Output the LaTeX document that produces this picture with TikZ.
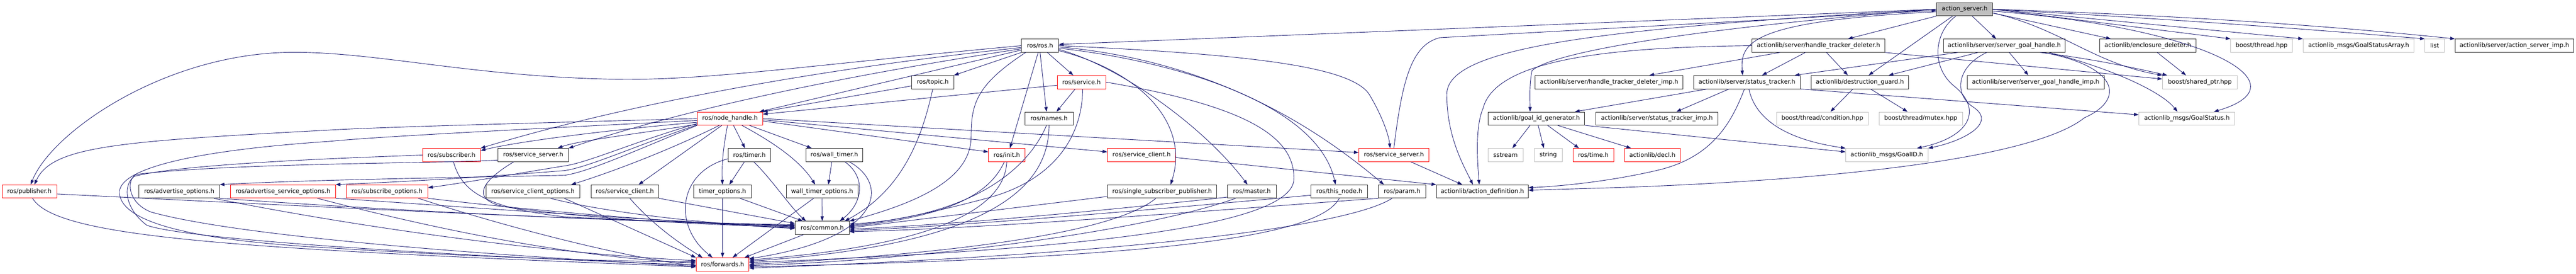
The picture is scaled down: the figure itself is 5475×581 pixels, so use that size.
\documentclass[tikz,border=0pt]{standalone}
\usepackage{fontspec}
\setmainfont{DejaVu Sans}
\usetikzlibrary{arrows.meta}

\definecolor{edgeblue}{HTML}{191970}
\definecolor{extgray}{HTML}{BFBFBF}

\begin{document}
\begin{tikzpicture}[x=0.75pt, y=-0.75pt,
    hdr/.style={draw=black!85, fill=white, line width=0.75pt, minimum height=21pt, inner sep=0pt, font=\fontsize{9.6}{11.5}\selectfont},
    trunc/.style={hdr, draw=red},
    extfile/.style={hdr, draw=extgray},
    rootfile/.style={hdr, fill=extgray},
    dep/.style={draw=edgeblue, line width=0.75pt, -{Triangle[length=7.5pt,width=5.25pt]}}]

    \useasboundingbox (0,0) rectangle (5475,581);

    % Draw the header files, row by row
    \node[rootfile, minimum width=89.25pt] (AS) at (4175.5,19.6) {action\_server.h};

    \node[hdr, minimum width=59.25pt] (RR) at (2210.5,96.9) {ros/ros.h};
    \node[hdr, minimum width=211.5pt] (HTD) at (3865,96.9) {actionlib/server/handle\_tracker\_deleter.h};
    \node[hdr, minimum width=193.7pt] (SGH) at (4259.85,96.9) {actionlib/server/server\_goal\_handle.h};
    \node[hdr, minimum width=153pt] (ED) at (4565,96.9) {actionlib/enclosure\_deleter.h};
    \node[extfile, minimum width=98.6pt] (BT) at (4806.75,96.9) {boost/thread.hpp};
    \node[extfile, minimum width=177pt] (GSA) at (5013,96.9) {actionlib\_msgs/GoalStatusArray.h};
    \node[extfile, minimum width=30.75pt] (LST) at (5174.5,96.9) {list};
    \node[hdr, minimum width=189pt] (ASI) at (5344,96.9) {actionlib/server/action\_server\_imp.h};

    \node[hdr, minimum width=66.75pt] (TOP) at (1982.5,174.3) {ros/topic.h};
    \node[trunc, minimum width=77.25pt] (SRV) at (2298.5,174.3) {ros/service.h};
    \node[hdr, minimum width=235.5pt] (HTDI) at (3420,174.3) {actionlib/server/handle\_tracker\_deleter\_imp.h};
    \node[hdr, minimum width=170.1pt] (ST) at (3713,174.3) {actionlib/server/status\_tracker.h};
    \node[hdr, minimum width=154.8pt] (DG) at (3952.8,174.3) {actionlib/destruction\_guard.h};
    \node[hdr, minimum width=218.25pt] (SGHI) at (4326.5,174.3) {actionlib/server/server\_goal\_handle\_imp.h};
    \node[extfile, minimum width=119.25pt] (SP) at (4675.5,174.3) {boost/shared\_ptr.hpp};

    \node[trunc, minimum width=104.25pt] (NH) at (1551.5,251.6) {ros/node\_handle.h};
    \node[hdr, minimum width=77.25pt] (NAM) at (2229.5,251.6) {ros/names.h};
    \node[hdr, minimum width=154.1pt] (GIG) at (3265.25,251.6) {actionlib/goal\_id\_generator.h};
    \node[hdr, minimum width=194.25pt] (STI) at (3521.5,251.6) {actionlib/server/status\_tracker\_imp.h};
    \node[extfile, minimum width=146.25pt] (CND) at (3873.2,251.6) {boost/thread/condition.hpp};
    \node[extfile, minimum width=133pt] (MTX) at (4082.3,251.6) {boost/thread/mutex.hpp};
    \node[extfile, minimum width=153pt] (GS) at (4648,251.6) {actionlib\_msgs/GoalStatus.h};

    \node[trunc, minimum width=91.9pt] (SUB) at (959.75,329) {ros/subscriber.h};
    \node[hdr, minimum width=112.1pt] (SSB) at (1133.25,329) {ros/service\_server.h};
    \node[hdr, minimum width=67.9pt] (TIM) at (1592.75,329) {ros/timer.h};
    \node[hdr, minimum width=91.1pt] (WT) at (1773.25,329) {ros/wall\_timer.h};
    \node[trunc, minimum width=58.2pt] (INI) at (2139.8,329) {ros/init.h};
    \node[trunc, minimum width=108.45pt] (SCR) at (2426.3,329) {ros/service\_client.h};
    \node[trunc, minimum width=111.75pt] (SSR) at (2962.5,329) {ros/service\_server.h};
    \node[extfile, minimum width=55.9pt] (SST) at (3199.75,329) {sstream};
    \node[extfile, minimum width=44.25pt] (STR) at (3290.5,329) {string};
    \node[trunc, minimum width=65.25pt] (TIME) at (3386.5,329) {ros/time.h};
    \node[trunc, minimum width=88.5pt] (DECL) at (3512,329) {actionlib/decl.h};
    \node[extfile, minimum width=130.9pt] (GID) at (4010.25,329) {actionlib\_msgs/GoalID.h};

    \node[trunc, minimum width=87pt] (PUB) at (62.5,406.3) {ros/publisher.h};
    \node[hdr, minimum width=128.25pt] (ADO) at (381,406.3) {ros/advertise\_options.h};
    \node[trunc, minimum width=167.4pt] (ASO) at (601.3,406.3) {ros/advertise\_service\_options.h};
    \node[trunc, minimum width=130pt] (SBO) at (822.55,406.3) {ros/subscribe\_options.h};
    \node[hdr, minimum width=148.8pt] (SCO) at (1132.8,406.3) {ros/service\_client\_options.h};
    \node[hdr, minimum width=108pt] (SCB) at (1328,406.3) {ros/service\_client.h};
    \node[hdr, minimum width=92.25pt] (TO) at (1535.5,406.3) {timer\_options.h};
    \node[hdr, minimum width=114.45pt] (WTO) at (1747.3,406.3) {wall\_timer\_options.h};
    \node[hdr, minimum width=174pt] (SSP) at (2470,406.3) {ros/single\_subscriber\_publisher.h};
    \node[hdr, minimum width=77.6pt] (MAS) at (2660.75,406.3) {ros/master.h};
    \node[hdr, minimum width=90.75pt] (THN) at (2846.5,406.3) {ros/this\_node.h};
    \node[hdr, minimum width=75pt] (PAR) at (2980,406.3) {ros/param.h};
    \node[hdr, minimum width=146.25pt] (AD) at (3150.5,406.3) {actionlib/action\_definition.h};

    \node[hdr, minimum width=86.25pt] (COM) at (1747.5,483.6) {ros/common.h};
    \node[trunc, minimum width=84.15pt] (FWD) at (1535.7,561) {ros/forwards.h};

    % action_server.h
    \draw[dep] (AS.west) -- ([yshift=2pt]RR.east);
    \draw[dep] ([yshift=-4pt]AS.west) .. controls (3720,45) and (3698,90) .. ([xshift=-7pt]ST.north);
    \draw[dep] (AS.west) .. controls (3600,60) and (3300,110) .. (3256,150) .. controls (3250,180) and (3252,210) .. ([xshift=-10pt]GIG.north);
    \draw[dep] (AS.west) .. controls (3400,60) and (3075,100) .. (3075,200) .. controls (3075,290) and (3110,350) .. ([xshift=-15pt]AD.north);
    \draw[dep] (AS.south west) -- ([xshift=47pt]HTD.north);
    \draw[dep] ([xshift=-19pt]AS.south) -- ([xshift=14pt]DG.north);
    \draw[dep] ([xshift=-14pt]AS.south) .. controls (4110,70) and (4105,140) .. (4150,180) .. controls (4215,230) and (4190,290) .. ([xshift=48pt]GID.north);
    \draw[dep] ([xshift=12pt]AS.south) -- ([xshift=-13pt]SGH.north);
    \draw[dep] ([yshift=-6pt]AS.east) -- ([xshift=-59pt]ED.north);
    \draw[dep] ([yshift=-6pt]AS.east) .. controls (4380,60) and (4450,135) .. (SP.north west);
    \draw[dep] ([yshift=-3pt]AS.east) .. controls (4700,60) and (4900,180) .. ([xshift=43pt]GS.north);
    \draw[dep] (AS.east) -- (BT.north west);
    \draw[dep] (AS.east) -- (GSA.north west);
    \draw[dep] (AS.east) .. controls (4700,45) and (5000,70) .. (LST.north west);
    \draw[dep] (AS.east) .. controls (4700,35) and (5000,60) .. (ASI.north west);
    \draw[dep] (SSR.north) .. controls (2980,170) and (3000,95) .. (3060,80) -- ([yshift=-2pt]AS.west);

    % actionlib/server
    \draw[dep] ([xshift=-61.5pt]HTD.south) -- ([xshift=64pt]HTDI.north);
    \draw[dep] ([xshift=-21pt]HTD.south) -- ([xshift=24pt]ST.north);
    \draw[dep] ([xshift=12.75pt]HTD.south) -- ([xshift=-19pt]DG.north);
    \draw[dep] (HTD.south east) -- ([yshift=5pt]SP.west);
    \draw[dep] (HTD.west) .. controls (3450,100) and (3180,120) .. (3152,230) .. controls (3135,270) and (3140,340) .. ([xshift=-5pt]AD.north);

    \draw[dep] ([xshift=-74pt]SGH.south) -- ([xshift=76pt]ST.north);
    \draw[dep] ([xshift=-42pt]SGH.south) -- ([xshift=46pt]DG.north);
    \draw[dep] ([xshift=8pt]SGH.south) -- ([xshift=-11.6pt]SGHI.north);
    \draw[dep] ([xshift=57pt]SGH.south) .. controls (4450,125) and (4540,145) .. ([xshift=-52pt]SP.north);
    \draw[dep] ([xshift=71pt]SGH.south) .. controls (4470,140) and (4590,190) .. ([xshift=-15pt]GS.north);
    \draw[dep] ([xshift=-28pt]SGH.south) .. controls (4160,140) and (4150,200) .. (4195,228) .. controls (4245,262) and (4170,300) .. (GID.north east);
    \draw[dep] ([xshift=62pt]SGH.south) .. controls (4500,140) and (4520,210) .. (4430,250) .. controls (4330,330) and (3950,380) .. (3440,398) -- ([yshift=2pt]AD.east);
    \draw[dep] ([xshift=15pt]ED.south) -- ([xshift=-22pt]SP.north);

    \draw[dep] ([xshift=-63pt]ST.south) -- ([xshift=61.5pt]GIG.north);
    \draw[dep] ([xshift=-28.5pt]ST.south) -- ([xshift=31pt]STI.north);
    \draw[dep] ([xshift=-4pt]ST.south) .. controls (3680,260) and (3640,335) .. (3520,362) .. controls (3420,385) and (3320,395) .. ([yshift=6pt]AD.east);
    \draw[dep] ([xshift=3pt]ST.south) .. controls (3730,250) and (3790,295) .. (GID.north west);
    \draw[dep] (ST.south east) -- ([yshift=6pt]GS.west);

    \draw[dep] ([xshift=-11pt]DG.south) -- ([xshift=13pt]CND.north);
    \draw[dep] ([xshift=17pt]DG.south) -- ([xshift=-21pt]MTX.north);

    \draw[dep] ([xshift=-10pt]GIG.south) -- ([xshift=11pt]SST.north);
    \draw[dep] ([xshift=3pt]GIG.south) -- ([xshift=-7pt]STR.north);
    \draw[dep] ([xshift=18pt]GIG.south) -- ([xshift=-23pt]TIME.north);
    \draw[dep] ([xshift=34pt]GIG.south) -- ([xshift=-34pt]DECL.north);
    \draw[dep] (GIG.south east) -- ([yshift=5pt]GID.west);

    \draw[dep] ([xshift=27pt]SSR.south) -- ([xshift=-32pt]AD.north);
    \draw[dep] ([yshift=-4pt]SCR.east) -- (AD.north west);

    % ros/ros.h
    \draw[dep] (RR.west) .. controls (1700,140) and (1500,172) .. (1300,168) .. controls (1000,162) and (800,110) .. (620,111) .. controls (350,113) and (110,280) .. ([xshift=2pt]PUB.north);
    \draw[dep] ([yshift=-3pt]RR.west) .. controls (1700,150) and (1300,230) .. (SUB.north east);
    \draw[dep] ([yshift=-5pt]RR.west) .. controls (1700,175) and (1400,250) .. (SSB.north east);
    \draw[dep] ([yshift=-7pt]RR.west) -- ([xshift=47pt]NH.north);
    \draw[dep] (RR.south west) -- (TOP.north east);
    \draw[dep] ([xshift=11.6pt]RR.south) -- ([xshift=-13pt]SRV.north);
    \draw[dep] (RR.south) -- ([xshift=-4pt]NAM.north);
    \draw[dep] ([xshift=-3pt]RR.south) -- ([xshift=5pt]INI.north);
    \draw[dep] ([xshift=-23pt]RR.south) .. controls (2075,180) and (2064,220) .. (2064,290) .. controls (2064,380) and (1950,430) .. (COM.north east);
    \draw[dep] (RR.east) .. controls (2650,115) and (2870,140) .. (2910,200) .. controls (2940,250) and (2952,290) .. ([xshift=-6pt]SSR.north);
    \draw[dep] ([yshift=-2pt]RR.east) .. controls (2600,130) and (2820,290) .. ([xshift=-29pt]PAR.north);
    \draw[dep] ([yshift=-4pt]RR.east) .. controls (2500,130) and (2800,220) .. ([xshift=-6pt]THN.north);
    \draw[dep] ([yshift=-6pt]RR.east) .. controls (2380,140) and (2560,270) .. ([xshift=-7pt]MAS.north);
    \draw[dep] ([yshift=-8pt]RR.east) .. controls (2420,150) and (2530,260) .. ([xshift=13.5pt]SSP.north);

    % ros/topic.h, ros/service.h, ros/names.h, ros/init.h
    \draw[dep] ([yshift=-6pt]TOP.west) -- (NH.north east);
    \draw[dep] (TOP.south) .. controls (1962,280) and (1925,400) .. ([xshift=36pt]COM.north);
    \draw[dep] ([yshift=-5pt]SRV.west) -- ([yshift=7pt]NH.east);
    \draw[dep] ([xshift=-10pt]SRV.south) -- ([xshift=12pt]NAM.north);
    \draw[dep] ([xshift=2pt]SRV.south) .. controls (2300,300) and (2230,385) .. (2100,420) .. controls (1980,452) and (1880,472) .. ([yshift=4pt]COM.east);
    \draw[dep] (SRV.east) .. controls (2650,225) and (2752,290) .. (2750,380) .. controls (2748,480) and (2300,530) .. ([yshift=3pt]FWD.east);
    \draw[dep] ([xshift=-4pt]NAM.south) .. controls (2180,370) and (2050,460) .. ([yshift=6pt]COM.east);
    \draw[dep] (NAM.south) .. controls (2230,400) and (2100,520) .. ([yshift=5pt]FWD.east);
    \draw[dep] ([xshift=-4pt]INI.south) .. controls (2100,420) and (2000,460) .. ([yshift=2pt]COM.east);
    \draw[dep] (INI.south) .. controls (2135,440) and (2000,520) .. ([yshift=7pt]FWD.east);

    % row of ros/ headers right of ros/common.h
    \draw[dep] ([yshift=-8pt]SSP.west) -- (COM.east);
    \draw[dep] ([xshift=-10pt]SSP.south) .. controls (2380,485) and (2100,535) .. (FWD.east);
    \draw[dep] ([yshift=-9pt]MAS.west) .. controls (2300,452) and (2000,478) .. ([yshift=-2pt]COM.east);
    \draw[dep] ([xshift=-26pt]MAS.south) .. controls (2450,485) and (2000,550) .. ([yshift=-2pt]FWD.east);
    \draw[dep] ([yshift=-6pt]THN.west) .. controls (2400,450) and (2000,482) .. ([yshift=-4pt]COM.east);
    \draw[dep] (THN.south) .. controls (2800,510) and (2400,548) .. ([yshift=-4pt]FWD.east);
    \draw[dep] (PAR.south west) .. controls (2600,445) and (2100,485) .. ([yshift=-6pt]COM.east);
    \draw[dep] ([xshift=-16pt]PAR.south) .. controls (2880,472) and (2500,535) .. ([yshift=-6pt]FWD.east);

    % ros/node_handle.h
    \draw[dep] (NH.west) .. controls (1100,262) and (800,270) .. (700,276) .. controls (250,300) and (110,310) .. ([xshift=8pt]PUB.north);
    \draw[dep] ([yshift=-6pt]NH.west) .. controls (1300,275) and (1100,300) .. ([yshift=7pt]SUB.east);
    \draw[dep] ([yshift=-9pt]NH.west) .. controls (1350,285) and (1230,298) .. ([xshift=39pt]SSB.north);
    \draw[dep] ([yshift=-8pt]NH.west) .. controls (1350,300) and (1250,345) .. (1200,352) .. controls (1100,368) and (1000,386) .. ([yshift=6pt]SBO.east);
    \draw[dep] ([yshift=-10pt]NH.west) .. controls (1350,310) and (1250,355) .. (1200,362) .. controls (1000,378) and (850,386) .. (ASO.north east);
    \draw[dep] (NH.south west) .. controls (1350,320) and (1250,365) .. (1200,372) .. controls (900,378) and (650,382) .. (ADO.north east);
    \draw[dep] ([xshift=-17pt]NH.south) .. controls (1420,320) and (1300,365) .. ([xshift=61pt]SCO.north);
    \draw[dep] ([xshift=-13pt]NH.south) -- ([xshift=22pt]SCB.north);
    \draw[dep] ([xshift=-4pt]NH.south) .. controls (1536,320) and (1534,350) .. (TO.north);
    \draw[dep] ([xshift=5.6pt]NH.south) -- ([xshift=-7pt]TIM.north);
    \draw[dep] ([xshift=19pt]NH.south) .. controls (1640,300) and (1700,340) .. ([xshift=-11pt]WTO.north);
    \draw[dep] ([xshift=31pt]NH.south) -- ([xshift=-36pt]WT.north);
    \draw[dep] ([yshift=-4pt]NH.east) -- ([yshift=5pt]INI.west);
    \draw[dep] ([yshift=-2pt]NH.east) -- ([yshift=5pt]SCR.west);
    \draw[dep] (NH.east) -- ([yshift=4pt]SSR.west);
    \draw[dep] ([yshift=-3pt]NH.west) .. controls (1100,275) and (800,290) .. (700,300) .. controls (400,320) and (250,360) .. (254,410) .. controls (258,470) and (400,510) .. (700,526) .. controls (1000,545) and (1300,555) .. ([yshift=4pt]FWD.west);

    % subscriber.h and service_server.h
    \draw[dep] (SUB.west) .. controls (800,333) and (400,345) .. (286,374) .. controls (262,390) and (262,440) .. (312,478) .. controls (400,510) and (1000,545) .. ([yshift=-1pt]FWD.west);
    \draw[dep] ([xshift=3pt]SUB.south) .. controls (980,400) and (1020,440) .. (1200,460) .. controls (1400,470) and (1600,478) .. ([yshift=3pt]COM.west);
    \draw[dep] ([yshift=-8pt]SSB.west) .. controls (950,347) and (500,345) .. (290,370) .. controls (268,380) and (270,430) .. (321,450) .. controls (500,500) and (1000,540) .. ([yshift=-3pt]FWD.west);
    \draw[dep] ([xshift=-31pt]SSB.south) .. controls (1030,380) and (990,425) .. (1080,440) .. controls (1300,470) and (1550,478) .. ([yshift=1pt]COM.west);

    % option headers and timers
    \draw[dep] ([yshift=-4pt]PUB.east) .. controls (700,440) and (1300,470) .. ([yshift=5pt]COM.west);
    \draw[dep] ([xshift=5pt]PUB.south) .. controls (120,505) and (500,528) .. ([yshift=-4pt]FWD.west);
    \draw[dep] (ADO.south east) .. controls (800,445) and (1300,470) .. ([yshift=4pt]COM.west);
    \draw[dep] ([xshift=55pt]ADO.south) .. controls (800,490) and (1200,540) .. ([yshift=6pt]FWD.west);
    \draw[dep] (ASO.south east) .. controls (1000,440) and (1400,470) .. ([yshift=2pt]COM.west);
    \draw[dep] ([xshift=55pt]ASO.south) .. controls (900,480) and (1200,545) .. ([yshift=2pt]FWD.west);
    \draw[dep] (SBO.south east) .. controls (1200,455) and (1500,475) .. (COM.west);
    \draw[dep] ([xshift=50pt]SBO.south) .. controls (1100,490) and (1350,550) .. ([yshift=-2pt]FWD.west);
    \draw[dep] ([xshift=28pt]SCO.south) .. controls (1300,455) and (1550,478) .. ([yshift=-1pt]COM.west);
    \draw[dep] ([xshift=50pt]SCO.south) -- (FWD.north west);
    \draw[dep] (SCB.south east) -- ([yshift=7pt]COM.west);
    \draw[dep] ([xshift=8pt]SCB.south) .. controls (1390,480) and (1450,520) .. ([xshift=-32pt]FWD.north);

    \draw[dep] ([xshift=-8pt]TIM.south) -- ([xshift=11pt]TO.north);
    \draw[dep] ([xshift=7pt]TIM.south) .. controls (1640,380) and (1680,440) .. ([xshift=-26pt]COM.north);
    \draw[dep] ([yshift=-6pt]TIM.west) .. controls (1440,365) and (1430,480) .. ([xshift=-16pt]FWD.north);
    \draw[dep] (TO.south) -- (FWD.north);
    \draw[dep] ([xshift=28pt]TO.south) -- ([xshift=-31pt]COM.north);
    \draw[dep] ([xshift=-4pt]WT.south) -- ([xshift=10pt]WTO.north);
    \draw[dep] ([xshift=17pt]WT.south) .. controls (1840,375) and (1835,430) .. ([xshift=28pt]COM.north);
    \draw[dep] ([xshift=24pt]WT.south) .. controls (1890,390) and (1880,505) .. ([yshift=9pt]FWD.east);
    \draw[dep] (WTO.south) -- (COM.north);
    \draw[dep] ([xshift=-13.5pt]WTO.south) -- ([xshift=16pt]FWD.north);
    \draw[dep] ([xshift=-30pt]COM.south) -- ([xshift=35pt]FWD.north);

\end{tikzpicture}
\end{document}
